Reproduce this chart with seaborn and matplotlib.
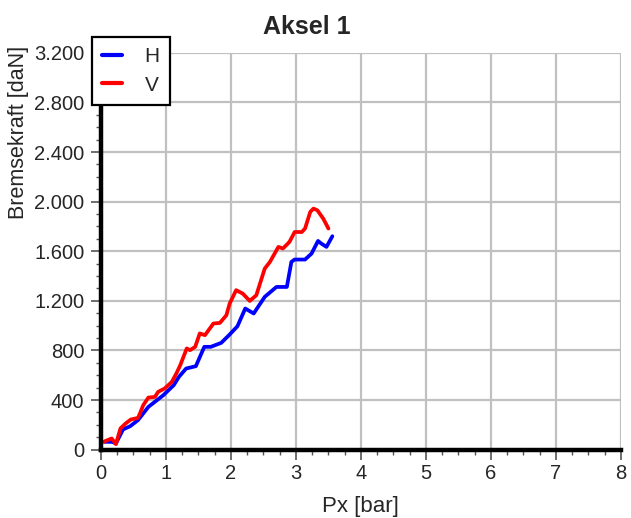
import numpy as np
import pandas as pd
import matplotlib
matplotlib.use("Agg")
import matplotlib.pyplot as plt
from matplotlib.ticker import MultipleLocator, FuncFormatter
import seaborn as sns

# Daten
px_h = [0.05, 0.17, 0.23, 0.34, 0.45, 0.57, 0.73, 0.96, 1.12, 1.20, 1.31, 1.46,
        1.59, 1.69, 1.85, 1.97, 2.10, 2.22, 2.35, 2.52, 2.70, 2.86, 2.93, 2.98,
        3.14, 3.24, 3.34, 3.39, 3.47, 3.56]
kraft_h = [63, 63, 50, 163, 189, 238, 345, 439, 520, 587, 654, 673,
           829, 829, 861, 923, 995, 1138, 1098, 1232, 1312, 1312, 1514, 1533,
           1533, 1581, 1683, 1662, 1635, 1721]

px_v = [0.05, 0.07, 0.165, 0.23, 0.30, 0.38, 0.46, 0.57, 0.60, 0.65, 0.73, 0.83,
        0.88, 0.98, 1.09, 1.16, 1.22, 1.32, 1.37, 1.45, 1.52, 1.60, 1.73, 1.83,
        1.93, 1.98, 2.08, 2.18, 2.29, 2.39, 2.52, 2.60, 2.73, 2.80, 2.90, 2.98,
        3.09, 3.14, 3.22, 3.27, 3.33, 3.42, 3.50]
kraft_v = [63, 70, 90, 44, 171, 211, 243, 256, 292, 358, 420, 425,
           466, 493, 546, 614, 681, 816, 802, 829, 937, 923, 1017, 1022,
           1084, 1178, 1286, 1259, 1199, 1245, 1460, 1514, 1635, 1622, 1675, 1755,
           1755, 1783, 1917, 1944, 1930, 1863, 1783]

serien = ["H", "V"]
farben = {"H": "#0000ff", "V": "#ff0000"}

df = pd.concat([
    pd.DataFrame({"Px": px_h, "Kraft": kraft_h, "Seite": "H"}),
    pd.DataFrame({"Px": px_v, "Kraft": kraft_v, "Seite": "V"}),
], ignore_index=True)

sns.set_style("white")
plt.rcParams["font.family"] = ["Liberation Sans", "DejaVu Sans"]

fig = plt.figure(figsize=(6.31, 5.18), dpi=100)
ax = fig.add_axes([0.160, 0.132, 0.824, 0.766])

sns.lineplot(data=df, x="Px", y="Kraft", hue="Seite", hue_order=serien,
             palette=farben, linewidth=2.7, ax=ax, sort=False)

ax.set_xlim(0, 8)
ax.set_ylim(0, 3200)
ax.xaxis.set_major_locator(MultipleLocator(1))
ax.xaxis.set_minor_locator(MultipleLocator(0.25))
ax.yaxis.set_major_locator(MultipleLocator(400))
ax.yaxis.set_minor_locator(MultipleLocator(100))
ax.yaxis.set_major_formatter(FuncFormatter(lambda v, p: f"{int(v):,}".replace(",", ".")))

ax.grid(True, which="major", color="#c0c0c0", linewidth=1.6)
ax.set_axisbelow(True)

for s in ["top", "right"]:
    ax.spines[s].set_visible(False)
for s in ["left", "bottom"]:
    ax.spines[s].set_linewidth(3.2)
    ax.spines[s].set_color("black")

ax.tick_params(axis="both", which="major", length=7, width=1.2, color="#555555",
               labelsize=14.5, direction="out", pad=3)
ax.tick_params(axis="y", which="major", pad=5)
ax.tick_params(axis="both", which="minor", length=3.8, width=1.0, color="#555555",
               direction="out")
ax.tick_params(axis="x", which="both", bottom=True)
ax.tick_params(axis="y", which="both", left=True)

ax.set_xlabel("Px [bar]", fontsize=16, labelpad=10)
ax.set_ylabel("Bremsekraft [daN]", fontsize=15.5)
ax.yaxis.set_label_coords(-0.138, 0.80)

fig.suptitle("Aksel 1", fontsize=18, fontweight="bold", x=0.487, y=0.972)

handles, labels = ax.get_legend_handles_labels()
leg = ax.legend(handles, labels, loc="upper left", bbox_to_anchor=(-0.018, 1.04),
                borderaxespad=0, fontsize=15, frameon=True, fancybox=False,
                handlelength=0.95, handletextpad=1.1, labelspacing=0.45,
                borderpad=0.5)
leg.get_frame().set_edgecolor("black")
leg.get_frame().set_linewidth(1.6)
leg.get_frame().set_alpha(1)
for line in leg.get_lines():
    line.set_linewidth(3)

fig.savefig("out.png", dpi=100)
